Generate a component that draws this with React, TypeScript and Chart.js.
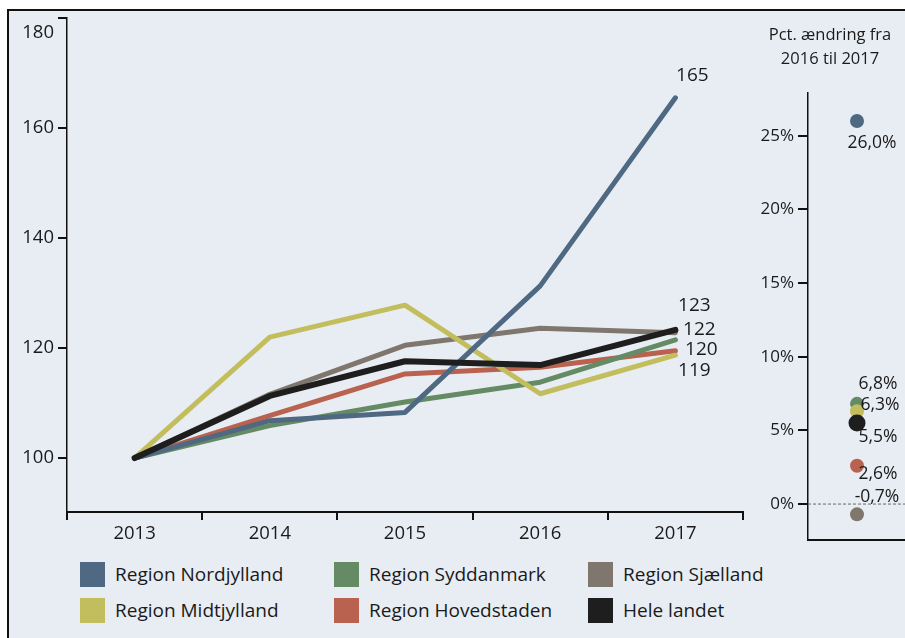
import React, { useEffect, useRef } from 'react';
import { Chart, registerables } from 'chart.js';
Chart.register(...registerables);

// ---------- DATA ----------
const years = ['2013', '2014', '2015', '2016', '2017'];
const seriesNames = ['Region Nordjylland', 'Region Syddanmark', 'Region Sjælland', 'Region Midtjylland', 'Region Hovedstaden', 'Hele landet'];
const nordjylland = [100, 106.8, 108.3, 131.3, 165.5];
const syddanmark = [100, 105.9, 110.2, 113.8, 121.5];
const sjaelland = [100, 111.6, 120.5, 123.6, 122.8];
const midtjylland = [100, 122.0, 127.8, 111.7, 118.7];
const hovedstaden = [100, 107.7, 115.3, 116.5, 119.5];
const heleLandet = [100, 111.3, 117.6, 116.9, 123.3];
const yTicks = [100, 120, 140, 160, 180];
const endLabelTexts = ['165', '123', '122', '120', '119'];
const pctChange = [26.0, 6.8, 6.3, 5.5, 2.6, -0.7];
const pctLabelTexts = ['26,0%', '6,8%', '6,3%', '5,5%', '2,6%', '-0,7%'];
const pctTicks = [0, 5, 10, 15, 20, 25];
const panelTitle = ['Pct. ændring fra', '2016 til 2017'];

// ---------- STYLE ----------
const FONT = "'Open Sans', sans-serif";
const TEXT = '#1a1a1a';
const BG = '#e8edf4';
const colors = ['#4f6982', '#648b64', '#7f776d', '#c3be5d', '#b96250', '#1e1e1e'];
const seriesValues = [nordjylland, syddanmark, sjaelland, midtjylland, hovedstaden, heleLandet];
// draw order: first drawn at bottom
const drawOrder = [2, 4, 1, 3, 0, 5];
// end labels: series index + pixel offsets
const endLabelAnchor = [0, 5, 2, 4, 3];
const endLabelOffset = [[17, -22], [19, -24], [24, -3], [26, -1], [19, 15]];
// pct point order: series index for each pct value
const pctSeries = [0, 1, 3, 5, 4, 2];
const pctDrawOrder = [0, 5, 4, 1, 2, 3];
const pctLabelOffset = [[15, 22], [21, -20], [23, -6], [21, 14], [21, 8], [20, -17]];

function zeroPad(s: any) {
  s.paddingTop = 0;
  s.paddingBottom = 0;
  s.paddingLeft = 0;
  s.paddingRight = 0;
}

function LineChart() {
  const ref = useRef<HTMLCanvasElement>(null);
  useEffect(() => {
    const endLabels = {
      id: 'endLabels',
      afterDatasetsDraw(chart: any) {
        const ctx = chart.ctx;
        const xs = chart.scales.x, ys = chart.scales.y;
        ctx.save();
        ctx.font = `19px ${FONT}`;
        ctx.fillStyle = TEXT;
        ctx.textAlign = 'center';
        ctx.textBaseline = 'middle';
        endLabelTexts.forEach((t, i) => {
          const s = endLabelAnchor[i];
          const last = years.length - 1;
          const px = xs.getPixelForValue(last) + endLabelOffset[i][0];
          const py = ys.getPixelForValue(seriesValues[s][last]) + endLabelOffset[i][1];
          ctx.fillText(t, px, py);
        });
        ctx.restore();
      },
    };
    const datasets = drawOrder.slice().reverse().map((s) => ({
      label: seriesNames[s],
      data: seriesValues[s],
      borderColor: colors[s],
      backgroundColor: colors[s],
      borderWidth: s === 5 ? 6 : 5,
      pointRadius: 0,
      tension: 0,
      borderCapStyle: 'round' as const,
      borderJoinStyle: 'round' as const,
      fill: false,
    }));
    const chart = new Chart(ref.current!, {
      type: 'line',
      data: { labels: years, datasets },
      options: {
        animation: false,
        responsive: false,
        layout: { autoPadding: false, padding: { top: 18, right: 17, left: 0, bottom: 0 } },
        plugins: { legend: { display: false }, tooltip: { enabled: false } },
        scales: {
          x: {
            type: 'category',
            offset: true,
            grid: { offset: true, drawOnChartArea: false, drawTicks: true, tickLength: 8, color: '#111', lineWidth: 2 },
            border: { display: true, color: '#111', width: 2 },
            ticks: { color: TEXT, font: { family: FONT, size: 18.5 }, padding: 3, maxRotation: 0 },
            afterFit: (s: any) => { s.height = 33; zeroPad(s); },
          },
          y: {
            min: 90.2,
            max: 180,
            afterBuildTicks: (s: any) => { s.ticks = yTicks.map((v) => ({ value: v })); },
            afterFit: (s: any) => { s.width = 67; zeroPad(s); },
            grid: { drawOnChartArea: false, drawTicks: true, tickLength: 9, color: '#111', lineWidth: 2 },
            border: { display: true, color: '#111', width: 1.5 },
            ticks: {
              color: TEXT,
              font: { family: FONT, size: 18.5, lineHeight: 1.55 },
              padding: 4,
              callback: (v: any) => (v === 180 ? ['', '180'] : String(v)),
            },
          },
        },
      },
      plugins: [endLabels],
    });
    return () => chart.destroy();
  }, []);
  return <canvas ref={ref} width={760} height={545} style={{ position: 'absolute', left: 0, top: 0, width: 760, height: 545 }} />;
}

function PctChart() {
  const ref = useRef<HTMLCanvasElement>(null);
  useEffect(() => {
    const extras = {
      id: 'pctExtras',
      beforeDatasetsDraw(chart: any) {
        const ctx = chart.ctx;
        const a = chart.chartArea;
        const y0 = chart.scales.y.getPixelForValue(0);
        ctx.save();
        ctx.strokeStyle = '#666';
        ctx.lineWidth = 1;
        ctx.setLineDash([3, 2]);
        ctx.beginPath();
        ctx.moveTo(a.left, y0);
        ctx.lineTo(a.right, y0);
        ctx.stroke();
        ctx.restore();
      },
      afterDatasetsDraw(chart: any) {
        const ctx = chart.ctx;
        const xs = chart.scales.x, ys = chart.scales.y;
        ctx.save();
        ctx.font = `17.5px ${FONT}`;
        ctx.fillStyle = TEXT;
        ctx.textAlign = 'center';
        ctx.textBaseline = 'middle';
        pctLabelTexts.forEach((t, i) => {
          const px = xs.getPixelForValue(1) + pctLabelOffset[i][0];
          const py = ys.getPixelForValue(pctChange[i]) + pctLabelOffset[i][1];
          ctx.fillText(t, px, py);
        });
        ctx.restore();
      },
    };
    const pts = pctDrawOrder.map((i) => ({ x: 1, y: pctChange[i] }));
    const chart = new Chart(ref.current!, {
      type: 'scatter',
      data: {
        datasets: [{
          data: pts,
          pointRadius: pctDrawOrder.map((i) => (pctSeries[i] === 5 ? 8.5 : 7)),
          pointBackgroundColor: pctDrawOrder.map((i) => colors[pctSeries[i]]),
          pointBorderWidth: 0,
          borderWidth: 0,
          clip: false as any,
        }],
      },
      options: {
        animation: false,
        responsive: false,
        layout: { autoPadding: false, padding: { top: 93, right: 0, left: 0, bottom: 0 } },
        plugins: { legend: { display: false }, tooltip: { enabled: false } },
        scales: {
          x: {
            type: 'linear',
            min: 0,
            max: 2,
            grid: { display: false, drawOnChartArea: false, drawTicks: false },
            border: { display: true, color: '#111', width: 2 },
            ticks: { display: false },
            afterFit: (s: any) => { s.height = 20; zeroPad(s); },
          },
          y: {
            min: -2.44,
            max: 27.9,
            afterBuildTicks: (s: any) => { s.ticks = pctTicks.map((v) => ({ value: v })); },
            afterFit: (s: any) => { s.width = 48; zeroPad(s); },
            grid: { drawOnChartArea: false, drawTicks: true, tickLength: 10, color: '#111', lineWidth: 2 },
            border: { display: true, color: '#111', width: 1.5 },
            ticks: { color: TEXT, font: { family: FONT, size: 17 }, padding: 4, callback: (v: any) => `${v}%` },
          },
        },
      },
      plugins: [extras],
    });
    return () => chart.destroy();
  }, []);
  return <canvas ref={ref} width={146} height={560} style={{ position: 'absolute', left: 760, top: 0, width: 146, height: 560 }} />;
}

function Legend() {
  const cols = [[0, 3], [1, 4], [2, 5]];
  const colX = [80, 334, 588];
  const rowY = [562, 598];
  return (
    <>
      {cols.map((col, ci) =>
        col.map((s, ri) => (
          <div key={s} style={{ position: 'absolute', left: colX[ci], top: rowY[ri], height: 25, display: 'flex', alignItems: 'center', whiteSpace: 'nowrap' }}>
            <div style={{ width: 25, height: 25, background: colors[s], marginRight: 10 }} />
            <span style={{ fontFamily: FONT, fontSize: 19, color: TEXT, lineHeight: '25px' }}>{seriesNames[s]}</span>
          </div>
        ))
      )}
    </>
  );
}

export default function App() {
  return (
    <div style={{ position: 'absolute', left: 0, top: 0, width: 905, height: 638, overflow: 'hidden', background: '#fff' }}>
      <div style={{ position: 'absolute', left: 7, top: 9, width: 905, height: 640, background: BG, borderLeft: '2px solid #111', borderTop: '2px solid #111' }} />
      <LineChart />
      <PctChart />
      {panelTitle.map((t, i) => (
        <div key={i} style={{ position: 'absolute', left: 750, width: 160, top: 22 + i * 24, textAlign: 'center', fontFamily: FONT, fontSize: 16.5, color: TEXT, lineHeight: '24px' }}>{t}</div>
      ))}
      <Legend />
    </div>
  );
}
